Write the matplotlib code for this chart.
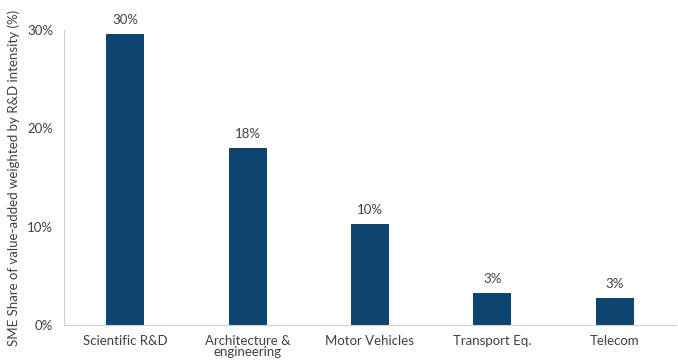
import matplotlib
matplotlib.use("Agg")
import matplotlib.pyplot as plt
from matplotlib.ticker import FuncFormatter

categories = ["Scientific R&D", "Architecture &\nengineering", "Motor Vehicles", "Transport Eq.", "Telecom"]
values = [29.6, 18.0, 10.3, 3.3, 2.75]
value_labels = ["30%", "18%", "10%", "3%", "3%"]

plt.rcParams['font.family'] = ['Lato', 'DejaVu Sans']
fig = plt.figure(figsize=(6.78, 3.6), dpi=100)
ax = fig.add_axes([0.0944, 0.0972, 0.9026, 0.8195])
color = "#0E4470"
x = range(len(categories))
bars = ax.bar(x, values, width=0.31, color=color)
for b, lab in zip(bars, value_labels):
    ax.text(b.get_x() + b.get_width() / 2, b.get_height() + 0.8, lab,
            ha="center", va="bottom", fontsize=9.5, color="#404040")
ax.set_xlim(-0.5, len(categories) - 0.5)
ax.set_ylim(0, 30)
ax.set_yticks([0, 10, 20, 30])
ax.yaxis.set_major_formatter(FuncFormatter(lambda v, p: f"{v:.0f}%"))
ax.set_xticks(list(x))
ax.set_xticklabels(categories, fontsize=9.5, color="#404040", linespacing=0.95)
ax.tick_params(axis="both", length=0, labelsize=9.5, colors="#404040")
ax.tick_params(axis="x", pad=7)
ax.tick_params(axis="y", pad=8)
for s in ["top", "right"]:
    ax.spines[s].set_visible(False)
for s in ["left", "bottom"]:
    ax.spines[s].set_color("#D0D0D0")
    ax.spines[s].set_linewidth(0.8)
ax.set_ylabel("SME Share of value-added weighted by R&D intensity (%)", fontsize=9.5, color="#404040", labelpad=5)
fig.savefig("out.png", dpi=100)
